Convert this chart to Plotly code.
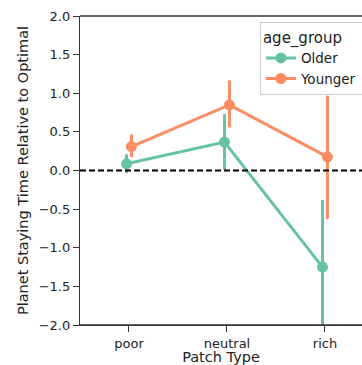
import plotly.graph_objects as go

categories = ["poor", "neutral", "rich"]
groups = ["Older", "Younger"]
older_mean = [0.087, 0.368, -1.25]
older_lo = [-0.035, 0.01, -2.4]
older_hi = [0.21, 0.73, -0.38]
younger_mean = [0.31, 0.85, 0.177]
younger_lo = [0.173, 0.557, -0.627]
younger_hi = [0.466, 1.167, 0.97]
colors = {"Older": "#66c2a5", "Younger": "#fc8d62"}
y_ticks = [-2.0, -1.5, -1.0, -0.5, 0.0, 0.5, 1.0, 1.5, 2.0]

series = {
    "Older": (older_mean, older_lo, older_hi, -0.025),
    "Younger": (younger_mean, younger_lo, younger_hi, 0.025),
}

fig = go.Figure()
for g in groups:
    m, lo, hi, off = series[g]
    xs = [i + off for i in range(len(categories))]
    fig.add_trace(go.Scatter(
        x=xs, y=m, name=g + "\u00a0\u00a0\u00a0", mode="lines+markers",
        line=dict(color=colors[g], width=3),
        marker=dict(color=colors[g], size=11),
        error_y=dict(type="data", symmetric=False,
                     array=[h - v for h, v in zip(hi, m)],
                     arrayminus=[v - l for v, l in zip(m, lo)],
                     color=colors[g], thickness=3, width=0),
    ))

fig.add_shape(type="line", xref="paper", yref="y", x0=0, x1=1.1, y0=0, y1=0,
              line=dict(color="black", width=1.8, dash="6px,3px"))
fig.add_shape(type="line", xref="paper", yref="paper", x0=0, x1=1.1, y0=1, y1=1,
              line=dict(color="#333333", width=1.3))
fig.add_shape(type="line", xref="paper", yref="paper", x0=0, x1=1.1, y0=0, y1=0,
              line=dict(color="#333333", width=1.3))

font = "DejaVu Sans, Verdana, sans-serif"
fig.update_layout(
    width=362, height=365,
    margin=dict(l=80, r=0, t=16, b=40, autoexpand=False),
    plot_bgcolor="white", paper_bgcolor="white",
    font=dict(family=font, color="#222222", size=13),
    showlegend=True,
    legend=dict(
        title=dict(text="age_group", font=dict(size=15, family=font)),
        font=dict(size=13.5, family=font),
        x=0.638, y=0.98, xanchor="left", yanchor="top",
        bgcolor="rgba(255,255,255,0.8)", bordercolor="#cccccc", borderwidth=1,
        tracegroupgap=0, itemwidth=30,
    ),
    xaxis=dict(
        range=[-0.5, 2.378], tickmode="array",
        tickvals=list(range(len(categories))), ticktext=categories,
        showline=True, linecolor="#333333", linewidth=1.3,
        ticks="outside", ticklen=6, tickwidth=1.3, tickcolor="#333333",
        showgrid=False, zeroline=False,
        title=dict(text="Patch Type", font=dict(size=14.5, family=font), standoff=1),
        tickfont=dict(size=13),
    ),
    yaxis=dict(
        range=[-2.0, 2.0], tickmode="array", tickvals=y_ticks,
        ticktext=[f"{v:.1f}".replace("-", "\u2212") for v in y_ticks],
        showline=True, linecolor="#333333", linewidth=1.3,
        ticks="outside", ticklen=6, tickwidth=1.3, tickcolor="#333333",
        showgrid=False, zeroline=False,
        title=dict(text="Planet Staying Time Relative to Optimal",
                   font=dict(size=14.5, family=font), standoff=6),
        tickfont=dict(size=13),
    ),
)

fig.write_html(
    "out.html",
    config={"displayModeBar": False},
    post_script="document.body.style.margin='0';document.body.style.overflow='hidden';",
)
